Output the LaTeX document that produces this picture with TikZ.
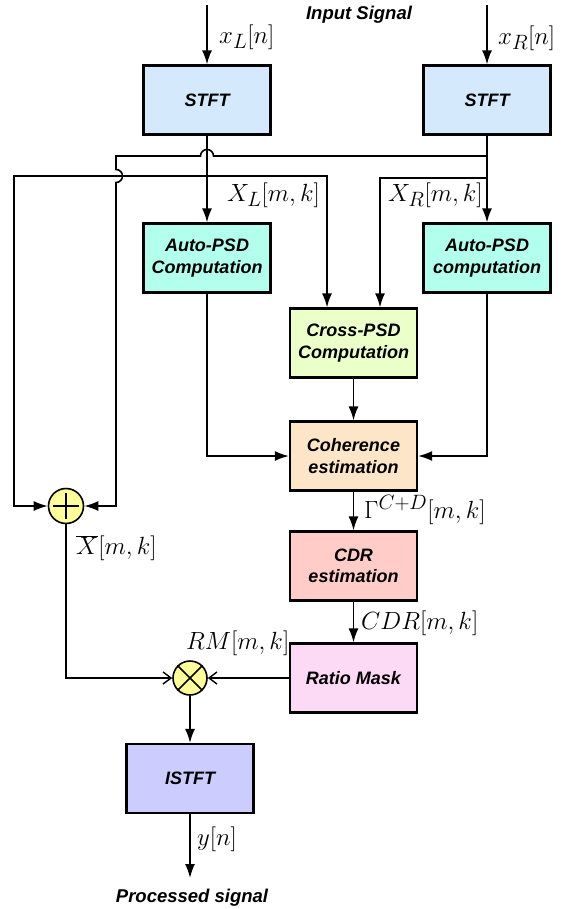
\documentclass[tikz,border=0pt]{standalone}
\usepackage[no-math]{fontspec}
\newfontfamily\lsans{Liberation Sans}
\usetikzlibrary{arrows.meta,calc}
\definecolor{cstft}{HTML}{D4EAFC}
\definecolor{capsd}{HTML}{B2FFEE}
\definecolor{ccpsd}{HTML}{EBFFC8}
\definecolor{ccoh}{HTML}{FDE5C8}
\definecolor{ccdr}{HTML}{FFCCC8}
\definecolor{crm}{HTML}{FCD9F5}
\definecolor{cistft}{HTML}{CCCCFF}
\definecolor{cop}{HTML}{FFFF99}
\newcommand\blkfont{\fontsize{18}{21.5}\selectfont\lsans\bfseries\itshape}
\newcommand\ttlfont{\fontsize{18.5}{22}\selectfont\lsans\bfseries\itshape}
\newcommand\mathsz{\fontsize{24.88}{29}\selectfont}
\begin{document}
\begin{tikzpicture}[x=1pt,y=-1pt,
  blk/.style={draw, line width=2.2pt, minimum width=127pt, minimum height=69pt, inner sep=0pt, align=center, font=\blkfont},
  con/.style={line width=1.6pt},
  arr/.style={con, -{Latex[length=14pt,width=10pt]}},
  arro/.style={con, -{Straight Barb[length=8pt,width=12pt,line width=1.4pt]}},
  opnode/.style={circle, draw, line width=1.6pt, fill=cop, minimum size=35pt, inner sep=0pt},
  lab/.style={font=\mathsz, inner sep=0pt, anchor=west},
  ttl/.style={font=\ttlfont, inner sep=0pt}
]
\useasboundingbox (0,0) rectangle (562,909);

% blocks
\node[blk, fill=cstft] (stftL) at (207,100) {STFT};
\node[blk, fill=cstft] (stftR) at (487,100) {STFT};
\node[blk, fill=capsd] (apsdL) at (207,258) {Auto-PSD\\Computation};
\node[blk, fill=capsd] (apsdR) at (487,258) {Auto-PSD\\computation};
\node[blk, fill=ccpsd] (cpsd) at (353.5,343) {Cross-PSD\\Computation};
\node[blk, fill=ccoh] (coh) at (353.5,456) {Coherence\\estimation};
\node[blk, fill=ccdr] (cdr) at (353.5,566) {CDR\\estimation};
\node[blk, fill=crm] (rm) at (353.5,678) {Ratio Mask};
\node[blk, fill=cistft] (istft) at (190,778.5) {ISTFT};

% operators
\node[opnode] (sum) at (66,506) {};
\draw[con] ([xshift=-13pt]sum.center) -- ([xshift=13pt]sum.center);
\draw[con] ([yshift=-13pt]sum.center) -- ([yshift=13pt]sum.center);
\node[opnode, minimum size=34pt] (mul) at (190,678) {};
\draw[con] (mul.45) -- (mul.225);
\draw[con] (mul.135) -- (mul.-45);

% coordinates
\coordinate (inL) at (207,5);
\coordinate (inR) at (487,5);
\coordinate (jA) at (487,156);
\coordinate (jB) at (207,176);
\coordinate (jC) at (487,178);
\coordinate (cBL) at (14,176);
\coordinate (out) at (190,878);

% titles
\node[ttl] (tin) at (359,15) {Input Signal};
\node[ttl] (tout) at (192,898) {Processed signal};

% inputs
\draw[arr] (inL) -- (stftL);
\draw[arr] (inR) -- (stftR);
\draw[arr] (stftL) -- (apsdL);
\draw[arr] (stftR) -- (apsdR);

% X_R branch to sum (with hops)
\draw[arr] (jA) -- (213.5,156) arc[start angle=0,end angle=180,radius=6.5pt]
  -- (116,156) -- (116,169.5) arc[start angle=90,end angle=-90,radius=6.5pt]
  -- (116,506) -- (sum);
% X_L branch to sum
\draw[arr] (jB) -- (cBL) |- (sum);
% to cross PSD
\draw[arr] (jB) -| ([xshift=-26.5pt]cpsd.north);
\draw[arr] (jC) -| ([xshift=26.5pt]cpsd.north);

% to coherence
\draw[arr] (apsdL) |- (coh);
\draw[arr] (apsdR) |- (coh);
\draw[arr] (cpsd) -- (coh);
\draw[arr] (coh) -- (cdr);
\draw[arr] (cdr) -- (rm);

% to multiplier
\draw[arro] (sum) |- (mul);
\draw[arro] (rm) -- (mul);
\draw[arr] (mul) -- (istft);
\draw[arr] (istft) -- (out);

% labels
\node[lab] (lxL) at (219,37) {$x_L[n]$};
\node[lab] (lxR) at (498,38) {$x_R[n]$};
\node[lab] (lXL) at (227,195) {$X_L[m,k]$};
\node[lab] (lXR) at (388,195) {$X_R[m,k]$};
\node[lab] (lG) at (364,510) {$\Gamma^{C+D}[m,k]$};
\node[lab] (lCDR) at (361,623) {$CDR[m,k]$};
\node[lab] (lXb) at (76,548) {$\overline{X}[m,k]$};
\node[lab] (lRM) at (186,643) {$RM[m,k]$};
\node[lab] (ly) at (197,839) {$y[n]$};
\end{tikzpicture}
\end{document}
